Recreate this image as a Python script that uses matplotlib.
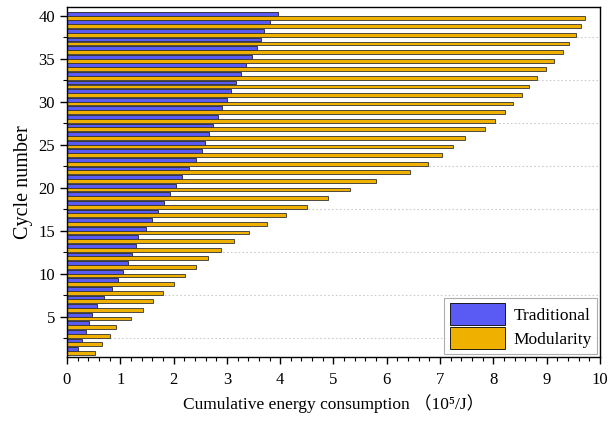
import numpy as np
import matplotlib
matplotlib.use("Agg")
import matplotlib.pyplot as plt
from matplotlib.ticker import MultipleLocator

plt.rcParams['font.family'] = ['Liberation Serif', 'Noto Sans CJK SC', 'DejaVu Sans']

# cycle numbers 1..40 and cumulative energy (10^5 J)
cycles = list(range(1, 41))
traditional = [0.21, 0.29, 0.35, 0.41, 0.47, 0.56, 0.70, 0.85, 0.96, 1.05,
               1.15, 1.23, 1.29, 1.34, 1.48, 1.60, 1.71, 1.82, 1.93, 2.04,
               2.16, 2.29, 2.42, 2.53, 2.59, 2.66, 2.74, 2.83, 2.91, 3.00,
               3.08, 3.17, 3.27, 3.36, 3.47, 3.57, 3.64, 3.70, 3.81, 3.96]
modularity = [0.52, 0.66, 0.80, 0.92, 1.20, 1.42, 1.62, 1.81, 2.01, 2.21,
              2.42, 2.65, 2.89, 3.13, 3.42, 3.76, 4.11, 4.50, 4.89, 5.31,
              5.80, 6.44, 6.77, 7.03, 7.24, 7.47, 7.84, 8.03, 8.21, 8.37,
              8.53, 8.67, 8.81, 8.98, 9.14, 9.30, 9.42, 9.55, 9.64, 9.72]
series_names = ['Traditional', 'Modularity']

BLUE = '#5a5af5'
ORANGE = '#f0b000'

fig = plt.figure(figsize=(6.08, 4.21), dpi=100)
ax = fig.add_axes([0.110, 0.152, 0.877, 0.831])

y = np.array(cycles, dtype=float)
h = 0.44
ax.barh(y + 0.23, traditional, height=h, color=BLUE, edgecolor='#222222',
        linewidth=0.6, label=series_names[0], zorder=2)
ax.barh(y - 0.22, modularity, height=h, color=ORANGE, edgecolor='#333333',
        linewidth=0.6, label=series_names[1], zorder=2)

# dotted grid at the half-way minor positions
for g in np.arange(2.5, 40, 5):
    ax.axhline(g, color='#cccccc', linestyle=(0, (1.5, 2)), linewidth=0.8, zorder=0)

ax.set_xlim(0, 10)
ax.set_ylim(0.3, 41.0)
ax.xaxis.set_major_locator(MultipleLocator(1))
ax.xaxis.set_minor_locator(MultipleLocator(0.2))
ax.yaxis.set_major_locator(MultipleLocator(5))
ax.yaxis.set_minor_locator(MultipleLocator(2.5))
ax.set_yticks([5, 10, 15, 20, 25, 30, 35, 40])
ax.tick_params(axis='both', which='major', length=5, width=1.0, labelsize=12, direction='out')
ax.tick_params(axis='both', which='minor', length=3, width=0.8, direction='out')
ax.tick_params(axis='x', pad=6)
for s in ax.spines.values():
    s.set_linewidth(1.0)

ax.set_xlabel('Cumulative energy consumption （10⁵/J）', fontsize=12.5, labelpad=4)
ax.set_ylabel('Cycle number', fontsize=14.5, labelpad=4)

leg = ax.legend(loc='lower right', fontsize=12.5, frameon=True, fancybox=False,
                edgecolor='#999999', handlelength=3.2, handleheight=1.6,
                borderaxespad=0.15, labelspacing=0.1, handletextpad=0.5,
                borderpad=0.3)
leg.get_frame().set_linewidth(0.8)
for p in leg.get_patches():
    p.set_edgecolor('black')

fig.savefig('out.png', dpi=100)
